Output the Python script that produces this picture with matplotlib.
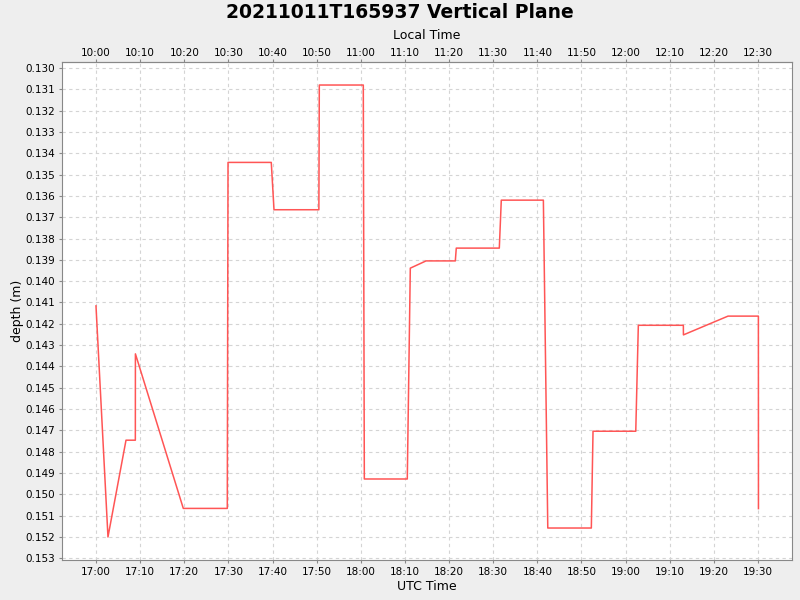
import matplotlib
matplotlib.use('Agg')
import matplotlib.pyplot as plt
import matplotlib.dates as mdates
import matplotlib.ticker as mticker
import numpy as np
from datetime import datetime, timedelta

# sample times (UTC) and depth readings
times = ['17:00:00', '17:02:43', '17:06:48', '17:08:55', '17:08:56', '17:19:47',
         '17:29:45', '17:29:55', '17:39:43', '17:40:20', '17:50:30', '17:50:36',
         '18:00:34', '18:00:48', '18:10:32', '18:11:13', '18:14:47', '18:21:25',
         '18:21:38', '18:31:23', '18:31:50', '18:41:22', '18:42:22', '18:52:14',
         '18:52:37', '19:02:18', '19:02:53', '19:13:05', '19:13:06', '19:23:12',
         '19:30:05', '19:30:06']
depth = [0.14116, 0.15200, 0.14746, 0.14746, 0.14341, 0.15066,
         0.15066, 0.13443, 0.13443, 0.13665, 0.13665, 0.13080,
         0.13080, 0.14928, 0.14928, 0.13939, 0.13905, 0.13905,
         0.13845, 0.13845, 0.13620, 0.13620, 0.15158, 0.15158,
         0.14704, 0.14704, 0.14207, 0.14207, 0.14252, 0.14164,
         0.14164, 0.15067]

day = '2021-10-11 '
t = [datetime.strptime(day + s, '%Y-%m-%d %H:%M:%S') for s in times]
local_offset = 7.0 / 24.0  # local = UTC - 7h

fig = plt.figure(figsize=(8, 6), dpi=100)
fig.patch.set_facecolor('#EEEEEE')
ax = fig.add_axes([62 / 800, 40 / 600, 730 / 800, 498 / 600])
ax.set_facecolor('white')

ax.plot(t, depth, color='#FF5555', lw=1.1)

ax.set_xlim(datetime(2021, 10, 11, 16, 52, 18), datetime(2021, 10, 11, 19, 37, 42))
ax.set_ylim(0.15308, 0.12972)

ax.xaxis.set_major_locator(mdates.MinuteLocator(byminute=range(0, 60, 10)))
ax.xaxis.set_major_formatter(mdates.DateFormatter('%H:%M'))
ax.yaxis.set_major_locator(mticker.MultipleLocator(0.001))
ax.yaxis.set_major_formatter(mticker.FormatStrFormatter('%.3f'))

ax.grid(True, color='#D4D4D4', linestyle=(0, (3, 3)), linewidth=0.8)
for sp in ax.spines.values():
    sp.set_color('#888888')
ax.tick_params(axis='both', labelsize=7.5, length=2, color='#888888', pad=3)

ax.set_xlabel('UTC Time', fontsize=9, labelpad=2)
ax.set_ylabel('depth (m)', fontsize=9, labelpad=1)

top = ax.secondary_xaxis('top', functions=(lambda x: x - local_offset, lambda x: x + local_offset))
top.xaxis.set_major_locator(mdates.MinuteLocator(byminute=range(0, 60, 10)))
top.xaxis.set_major_formatter(mdates.DateFormatter('%H:%M'))
top.tick_params(labelsize=7.5, length=2, color='#888888', pad=1)
top.spines['top'].set_color('#888888')
top.set_xlabel('Local Time', fontsize=9, labelpad=6)

fig.suptitle('20211011T165937 Vertical Plane', fontsize=13.5, fontweight='bold', y=0.995)

fig.savefig('out.png', dpi=100, facecolor=fig.get_facecolor())
